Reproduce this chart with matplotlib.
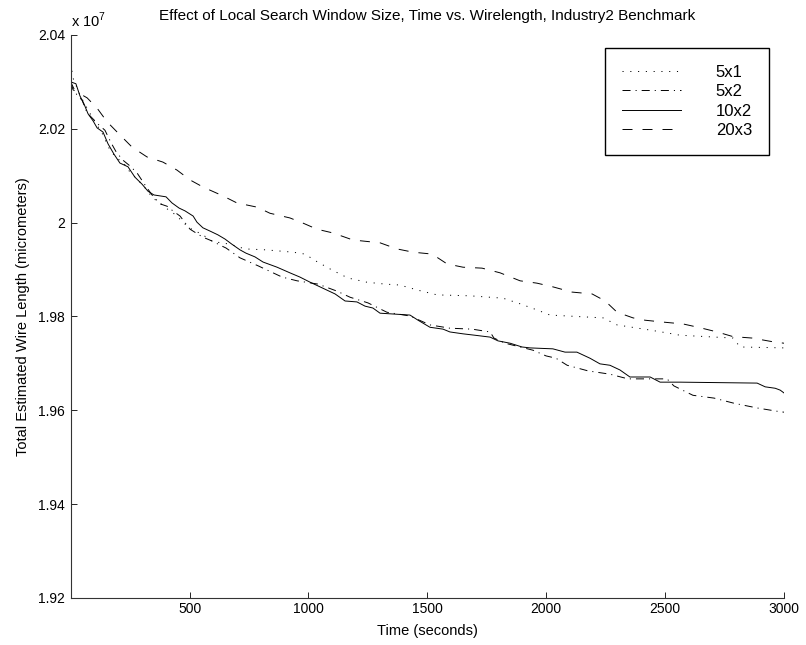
import matplotlib
matplotlib.use('Agg')
import matplotlib.pyplot as plt

plt.rcParams['font.family'] = ['Liberation Sans', 'DejaVu Sans']
plt.rcParams['mathtext.fontset'] = 'custom'
plt.rcParams['mathtext.rm'] = 'Liberation Sans'
plt.rcParams['lines.scale_dashes'] = False

# wire length in units of 1e7 micrometers, time in seconds
t_5x1 = [0, 10, 39, 73, 102, 132, 161, 191, 220, 249, 283, 313, 346, 376, 401, 443, 472,
         498, 556, 598, 640, 683, 733, 821, 935, 985, 1032, 1099, 1166, 1246, 1322, 1384,
         1461, 1541, 1680, 1818, 1890, 1961, 2016, 2239, 2298, 2437, 2508, 2563, 2786,
         2815, 3000]
w_5x1 = [2.0340, 2.0308, 2.0272, 2.0240, 2.0215, 2.0191, 2.0159, 2.0138, 2.0129, 2.0108,
         2.0091, 2.0074, 2.0052, 2.0042, 2.0031, 2.0016, 2.0001, 1.9989, 1.9974, 1.9959,
         1.9957, 1.9952, 1.9944, 1.9942, 1.9937, 1.9933, 1.9918, 1.9899, 1.9882, 1.9873,
         1.9869, 1.9867, 1.9856, 1.9846, 1.9844, 1.9839, 1.9827, 1.9814, 1.9803, 1.9797,
         1.9782, 1.9771, 1.9765, 1.9760, 1.9754, 1.9735, 1.9733]

t_5x2 = [0, 26, 48, 69, 94, 119, 144, 170, 191, 220, 249, 279, 313, 342, 376, 405, 430,
         460, 502, 527, 556, 594, 628, 653, 712, 788, 889, 952, 1040, 1120, 1175, 1250,
         1330, 1427, 1511, 1595, 1688, 1764, 1780, 1827, 1890, 1945, 1999, 2041, 2088,
         2176, 2268, 2344, 2508, 2537, 2617, 2706, 2790, 2887, 2971, 3000]
w_5x2 = [2.0300, 2.0272, 2.0261, 2.0234, 2.0221, 2.0208, 2.0197, 2.0170, 2.0151, 2.0133,
         2.0121, 2.0106, 2.0080, 2.0059, 2.0040, 2.0035, 2.0025, 2.0014, 1.9986, 1.9978,
         1.9969, 1.9961, 1.9952, 1.9946, 1.9925, 1.9908, 1.9884, 1.9876, 1.9869, 1.9854,
         1.9841, 1.9829, 1.9809, 1.9801, 1.9782, 1.9775, 1.9773, 1.9767, 1.9754, 1.9743,
         1.9735, 1.9728, 1.9716, 1.9711, 1.9696, 1.9684, 1.9677, 1.9667, 1.9667, 1.9652,
         1.9632, 1.9626, 1.9615, 1.9605, 1.9598, 1.9596]

t_10x2 = [0, 22, 39, 56, 73, 94, 111, 136, 157, 182, 207, 241, 270, 300, 325, 350, 401,
          426, 456, 481, 515, 531, 556, 586, 619, 649, 678, 712, 737, 775, 809, 868, 922,
          964, 1007, 1049, 1112, 1154, 1204, 1238, 1271, 1301, 1427, 1461, 1511, 1566,
          1595, 1650, 1700, 1764, 1797, 1848, 1898, 1932, 2028, 2079, 2129, 2184, 2226,
          2268, 2310, 2352, 2437, 2479, 2563, 2887, 2921, 2963, 2984, 3000]
w_10x2 = [2.0300, 2.0296, 2.0270, 2.0253, 2.0232, 2.0217, 2.0202, 2.0193, 2.0168, 2.0146,
          2.0127, 2.0119, 2.0097, 2.0082, 2.0067, 2.0059, 2.0055, 2.0042, 2.0031, 2.0025,
          2.0014, 2.0001, 1.9989, 1.9982, 1.9974, 1.9965, 1.9954, 1.9942, 1.9935, 1.9927,
          1.9916, 1.9905, 1.9893, 1.9884, 1.9873, 1.9863, 1.9848, 1.9833, 1.9831, 1.9822,
          1.9818, 1.9807, 1.9803, 1.9792, 1.9777, 1.9773, 1.9767, 1.9763, 1.9760, 1.9756,
          1.9748, 1.9743, 1.9735, 1.9733, 1.9731, 1.9724, 1.9724, 1.9711, 1.9699, 1.9696,
          1.9686, 1.9671, 1.9671, 1.9660, 1.9660, 1.9658, 1.9650, 1.9647, 1.9643, 1.9637]

t_20x3 = [0, 10, 69, 111, 153, 207, 258, 321, 388, 447, 502, 556, 640, 699, 784, 838, 922,
          977, 1036, 1103, 1187, 1301, 1372, 1440, 1520, 1583, 1650, 1730, 1806, 1890,
          1961, 2029, 2108, 2193, 2248, 2298, 2365, 2416, 2492, 2576, 2647, 2719, 2786,
          2866, 2954, 3000]
w_20x3 = [2.0300, 2.0283, 2.0266, 2.0244, 2.0215, 2.0187, 2.0161, 2.0140, 2.0129, 2.0112,
          2.0091, 2.0076, 2.0057, 2.0042, 2.0033, 2.0020, 2.0010, 1.9999, 1.9986, 1.9978,
          1.9963, 1.9957, 1.9944, 1.9937, 1.9933, 1.9912, 1.9905, 1.9903, 1.9893, 1.9876,
          1.9871, 1.9863, 1.9852, 1.9848, 1.9833, 1.9809, 1.9797, 1.9792, 1.9788, 1.9784,
          1.9776, 1.9767, 1.9757, 1.9754, 1.9746, 1.9743]

x_ticks = [500, 1000, 1500, 2000, 2500, 3000]
y_ticks = [1.92, 1.94, 1.96, 1.98, 2.00, 2.02, 2.04]
y_tick_labels = ['1.92', '1.94', '1.96', '1.98', '2', '2.02', '2.04']

fig = plt.figure(figsize=(8.06, 6.45), dpi=100)
ax = fig.add_axes([0.0877, 0.0729, 0.885, 0.8729])

lw = 0.7
ax.plot(t_5x1, w_5x1, color='k', lw=lw, linestyle=(0, (0.8, 4.8)), label='5x1')
ax.plot(t_5x2, w_5x2, color='k', lw=lw, linestyle=(0, (5.8, 3.6, 0.8, 3.6)), label='5x2')
ax.plot(t_10x2, w_10x2, color='k', lw=lw, linestyle='-', label='10x2')
ax.plot(t_20x3, w_20x3, color='k', lw=lw, linestyle=(0, (7.2, 7.2)), label='20x3')

ax.set_xlim(0, 3000)
ax.set_ylim(1.92, 2.04)
ax.set_xticks(x_ticks)
ax.set_xticklabels([str(v) for v in x_ticks])
ax.set_yticks(y_ticks)
ax.set_yticklabels(y_tick_labels)
ax.tick_params(direction='in', length=4, width=0.6, labelsize=10)
ax.tick_params(axis='x', pad=3)
ax.tick_params(axis='y', pad=4)

for side in ['top', 'right']:
    ax.spines[side].set_visible(False)
for side in ['left', 'bottom']:
    ax.spines[side].set_linewidth(0.8)
    ax.spines[side].set_color('#333333')

ax.set_title('Effect of Local Search Window Size, Time vs. Wirelength, Industry2 Benchmark',
             fontsize=11, pad=11)
ax.set_xlabel('Time (seconds)', fontsize=10.5, labelpad=6)
ax.set_ylabel('Total Estimated Wire Length (micrometers)', fontsize=10.5, labelpad=6)
ax.text(0.0, 1.008, r'x 10$^{\mathrm{7}}$', transform=ax.transAxes,
        ha='left', va='bottom', fontsize=10.5)

leg = ax.legend(loc='upper left', bbox_to_anchor=(605 / 806, 1 - 48 / 645),
                bbox_transform=fig.transFigure, borderaxespad=0, fontsize=12,
                handlelength=3.55, handletextpad=2.1, labelspacing=0.27, borderpad=1.0,
                fancybox=False, framealpha=1, edgecolor='k')
leg.get_frame().set_linewidth(1.0)

fig.savefig('out.png', dpi=100)
